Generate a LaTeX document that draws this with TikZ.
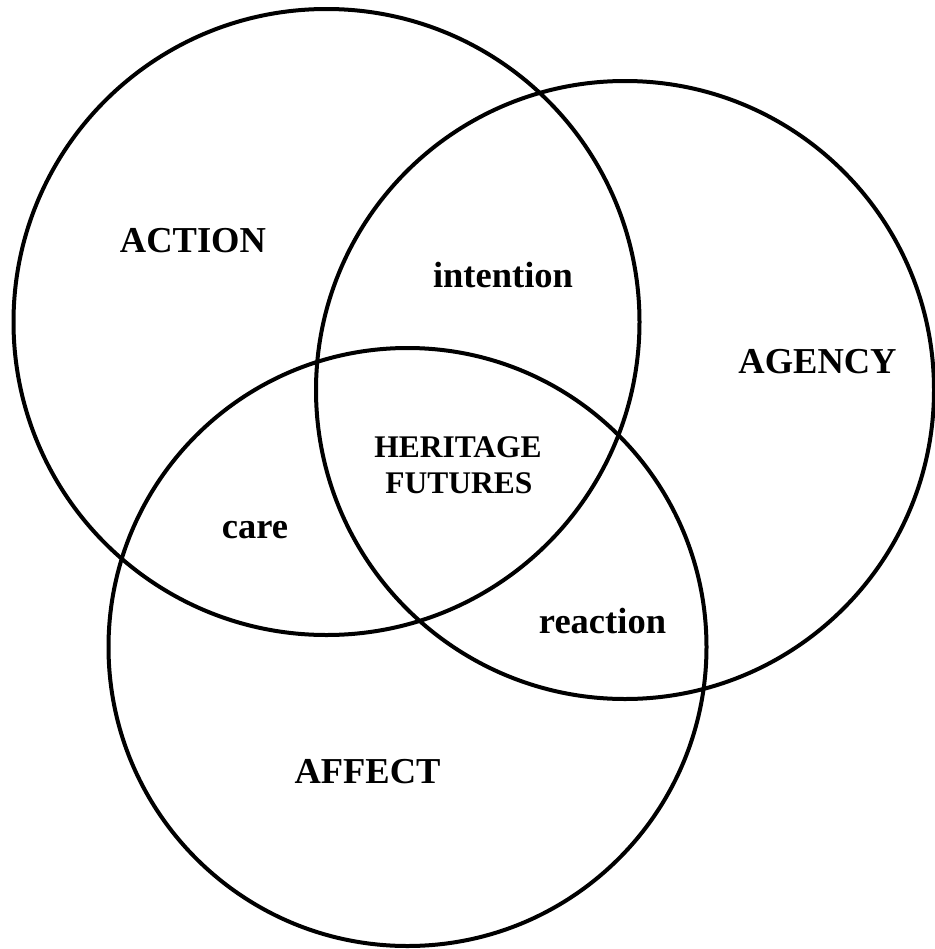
\documentclass[tikz,border=0pt]{standalone}
\usepackage{fontspec}
\setmainfont{Liberation Serif}
\begin{document}
\begin{tikzpicture}[x=1bp,y=-1bp,
  ring/.style={draw=black,line width=4bp},
  biglabel/.style={anchor=base,inner sep=0pt,font=\bfseries\fontsize{36.5bp}{40bp}\selectfont},
  corelabel/.style={anchor=base,inner sep=0pt,font=\bfseries\fontsize{31.5bp}{34bp}\selectfont}]
\useasboundingbox (0,0) rectangle (935,949);
% centres of the three sets
\coordinate (cAction) at (326.5,322);
\coordinate (cAgency) at (625,390);
\coordinate (cAffect) at (407.5,647);
\draw[ring] (cAction) circle[radius=313];
\draw[ring] (cAgency) circle[radius=309];
\draw[ring] (cAffect) circle[radius=299];
% set names
\node[biglabel] (action) at (193,252) {ACTION};
\node[biglabel] (agency) at (817.5,373) {AGENCY};
\node[biglabel] (affect) at (367.5,783) {AFFECT};
% pairwise overlaps
\node[biglabel] (intention) at (503,287) {intention};
\node[biglabel] (care) at (255,538) {care};
\node[biglabel] (reaction) at (602.5,633) {reaction};
% common core
\node[corelabel] (heritage) at (458,457) {HERITAGE};
\node[corelabel] (futures) at (459,493) {FUTURES};
\end{tikzpicture}
\end{document}
